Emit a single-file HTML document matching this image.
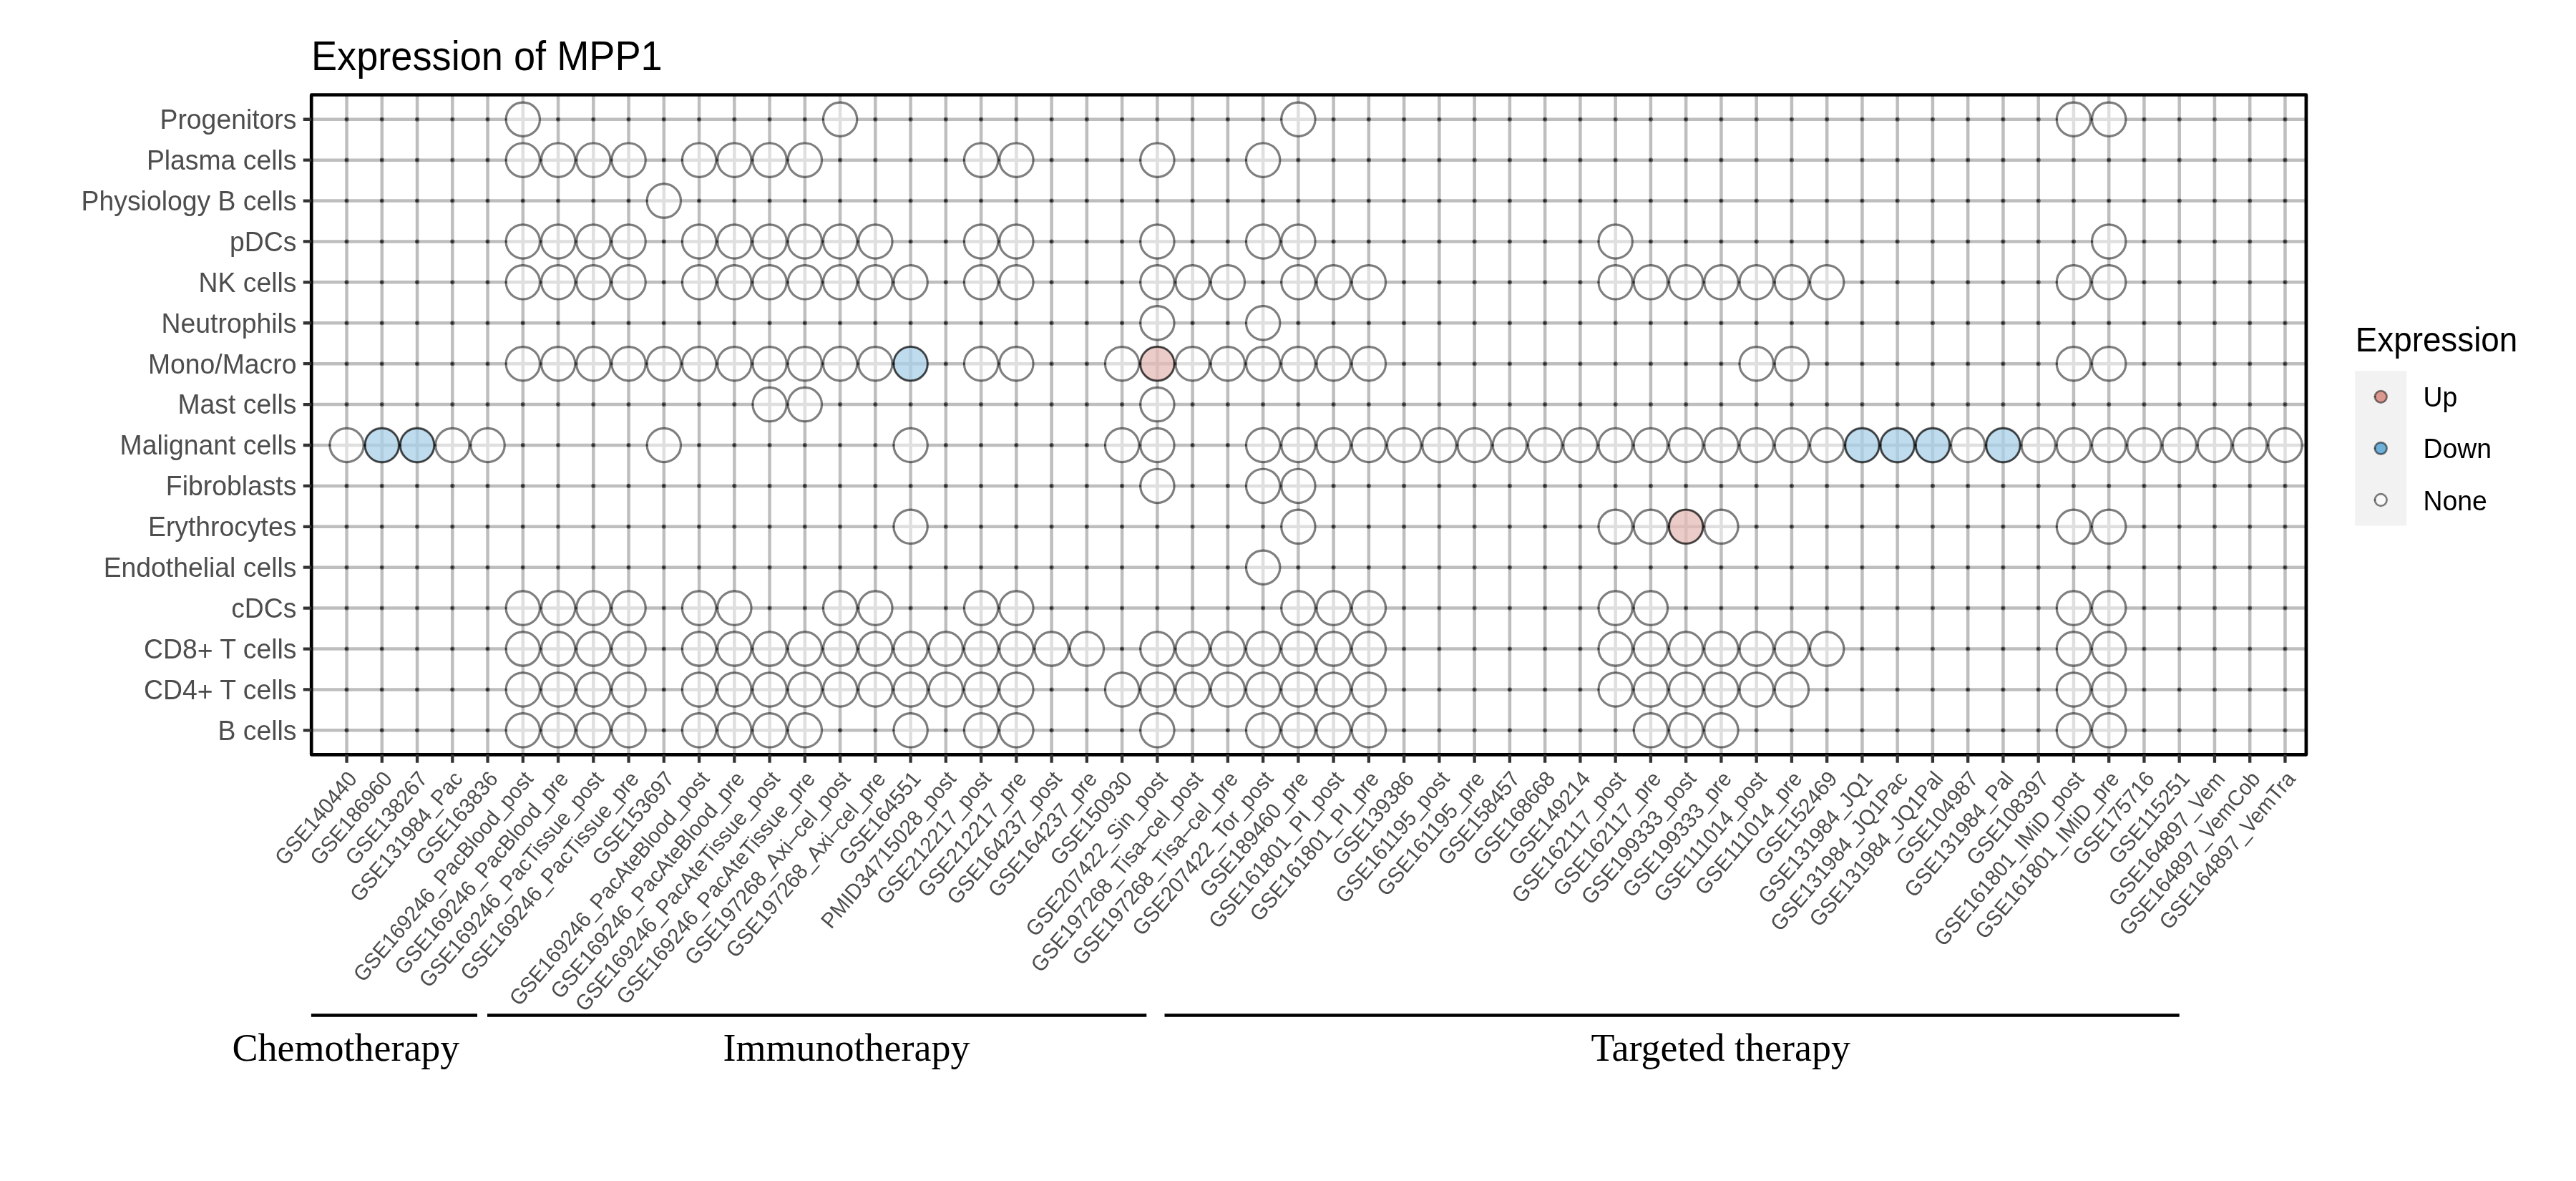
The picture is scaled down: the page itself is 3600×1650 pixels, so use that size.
<!DOCTYPE html>
<html><head><meta charset="utf-8"><title>Expression of MPP1</title>
<style>
html,body{margin:0;padding:0;background:#fff}
body{width:3600px;height:1650px;overflow:hidden}
svg{display:block;will-change:transform}
text{font-family:"Liberation Sans",sans-serif}
.ser{font-family:"Liberation Serif",serif}
</style></head><body>
<svg width="3600" height="1650" viewBox="0 0 3600 1650">
<rect width="3600" height="1650" fill="#fff"/>
<g font-size="54.17" fill="#000"><text transform="translate(435 97.6) scale(1 1.05)">Expression of MPP1</text>
</g>
<g stroke="#bebebe" stroke-width="4.5" fill="none">
<path d="M435.2 166.74H3222.9M435.2 223.65H3222.9M435.2 280.55H3222.9M435.2 337.46H3222.9M435.2 394.37H3222.9M435.2 451.27H3222.9M435.2 508.18H3222.9M435.2 565.09H3222.9M435.2 622H3222.9M435.2 678.9H3222.9M435.2 735.81H3222.9M435.2 792.72H3222.9M435.2 849.62H3222.9M435.2 906.53H3222.9M435.2 963.44H3222.9M435.2 1020.34H3222.9M484.55 132.5V1054.35M533.8 132.5V1054.35M583.06 132.5V1054.35M632.31 132.5V1054.35M681.56 132.5V1054.35M730.82 132.5V1054.35M780.07 132.5V1054.35M829.32 132.5V1054.35M878.57 132.5V1054.35M927.83 132.5V1054.35M977.08 132.5V1054.35M1026.33 132.5V1054.35M1075.59 132.5V1054.35M1124.84 132.5V1054.35M1174.09 132.5V1054.35M1223.35 132.5V1054.35M1272.6 132.5V1054.35M1321.85 132.5V1054.35M1371.1 132.5V1054.35M1420.36 132.5V1054.35M1469.61 132.5V1054.35M1518.86 132.5V1054.35M1568.12 132.5V1054.35M1617.37 132.5V1054.35M1666.62 132.5V1054.35M1715.88 132.5V1054.35M1765.13 132.5V1054.35M1814.38 132.5V1054.35M1863.63 132.5V1054.35M1912.89 132.5V1054.35M1962.14 132.5V1054.35M2011.39 132.5V1054.35M2060.65 132.5V1054.35M2109.9 132.5V1054.35M2159.15 132.5V1054.35M2208.41 132.5V1054.35M2257.66 132.5V1054.35M2306.91 132.5V1054.35M2356.16 132.5V1054.35M2405.42 132.5V1054.35M2454.67 132.5V1054.35M2503.92 132.5V1054.35M2553.18 132.5V1054.35M2602.43 132.5V1054.35M2651.68 132.5V1054.35M2700.94 132.5V1054.35M2750.19 132.5V1054.35M2799.44 132.5V1054.35M2848.69 132.5V1054.35M2897.95 132.5V1054.35M2947.2 132.5V1054.35M2996.45 132.5V1054.35M3045.71 132.5V1054.35M3094.96 132.5V1054.35M3144.21 132.5V1054.35M3193.47 132.5V1054.35"/>
</g>
<defs><g id="p" fill="#000"><circle r="3.05" fill-opacity="0.55"/><circle cx="-0.4" r="1.7" fill-opacity="0.55"/></g></defs>
<g>
<use href="#p" x="484.55" y="166.74"/><use href="#p" x="533.8" y="166.74"/><use href="#p" x="583.06" y="166.74"/><use href="#p" x="632.31" y="166.74"/><use href="#p" x="681.56" y="166.74"/><use href="#p" x="780.07" y="166.74"/><use href="#p" x="829.32" y="166.74"/><use href="#p" x="878.57" y="166.74"/><use href="#p" x="927.83" y="166.74"/><use href="#p" x="977.08" y="166.74"/><use href="#p" x="1026.33" y="166.74"/><use href="#p" x="1075.59" y="166.74"/><use href="#p" x="1124.84" y="166.74"/><use href="#p" x="1223.35" y="166.74"/><use href="#p" x="1272.6" y="166.74"/><use href="#p" x="1321.85" y="166.74"/><use href="#p" x="1371.1" y="166.74"/><use href="#p" x="1420.36" y="166.74"/><use href="#p" x="1469.61" y="166.74"/><use href="#p" x="1518.86" y="166.74"/><use href="#p" x="1568.12" y="166.74"/><use href="#p" x="1617.37" y="166.74"/><use href="#p" x="1666.62" y="166.74"/><use href="#p" x="1715.88" y="166.74"/><use href="#p" x="1765.13" y="166.74"/><use href="#p" x="1863.63" y="166.74"/><use href="#p" x="1912.89" y="166.74"/><use href="#p" x="1962.14" y="166.74"/><use href="#p" x="2011.39" y="166.74"/><use href="#p" x="2060.65" y="166.74"/><use href="#p" x="2109.9" y="166.74"/><use href="#p" x="2159.15" y="166.74"/><use href="#p" x="2208.41" y="166.74"/><use href="#p" x="2257.66" y="166.74"/><use href="#p" x="2306.91" y="166.74"/><use href="#p" x="2356.16" y="166.74"/><use href="#p" x="2405.42" y="166.74"/><use href="#p" x="2454.67" y="166.74"/><use href="#p" x="2503.92" y="166.74"/><use href="#p" x="2553.18" y="166.74"/><use href="#p" x="2602.43" y="166.74"/><use href="#p" x="2651.68" y="166.74"/><use href="#p" x="2700.94" y="166.74"/><use href="#p" x="2750.19" y="166.74"/><use href="#p" x="2799.44" y="166.74"/><use href="#p" x="2848.69" y="166.74"/><use href="#p" x="2996.45" y="166.74"/><use href="#p" x="3045.71" y="166.74"/><use href="#p" x="3094.96" y="166.74"/><use href="#p" x="3144.21" y="166.74"/><use href="#p" x="3193.47" y="166.74"/>
<use href="#p" x="484.55" y="223.65"/><use href="#p" x="533.8" y="223.65"/><use href="#p" x="583.06" y="223.65"/><use href="#p" x="632.31" y="223.65"/><use href="#p" x="681.56" y="223.65"/><use href="#p" x="927.83" y="223.65"/><use href="#p" x="1174.09" y="223.65"/><use href="#p" x="1223.35" y="223.65"/><use href="#p" x="1272.6" y="223.65"/><use href="#p" x="1321.85" y="223.65"/><use href="#p" x="1469.61" y="223.65"/><use href="#p" x="1518.86" y="223.65"/><use href="#p" x="1568.12" y="223.65"/><use href="#p" x="1666.62" y="223.65"/><use href="#p" x="1715.88" y="223.65"/><use href="#p" x="1814.38" y="223.65"/><use href="#p" x="1863.63" y="223.65"/><use href="#p" x="1912.89" y="223.65"/><use href="#p" x="1962.14" y="223.65"/><use href="#p" x="2011.39" y="223.65"/><use href="#p" x="2060.65" y="223.65"/><use href="#p" x="2109.9" y="223.65"/><use href="#p" x="2159.15" y="223.65"/><use href="#p" x="2208.41" y="223.65"/><use href="#p" x="2257.66" y="223.65"/><use href="#p" x="2306.91" y="223.65"/><use href="#p" x="2356.16" y="223.65"/><use href="#p" x="2405.42" y="223.65"/><use href="#p" x="2454.67" y="223.65"/><use href="#p" x="2503.92" y="223.65"/><use href="#p" x="2553.18" y="223.65"/><use href="#p" x="2602.43" y="223.65"/><use href="#p" x="2651.68" y="223.65"/><use href="#p" x="2700.94" y="223.65"/><use href="#p" x="2750.19" y="223.65"/><use href="#p" x="2799.44" y="223.65"/><use href="#p" x="2848.69" y="223.65"/><use href="#p" x="2897.95" y="223.65"/><use href="#p" x="2947.2" y="223.65"/><use href="#p" x="2996.45" y="223.65"/><use href="#p" x="3045.71" y="223.65"/><use href="#p" x="3094.96" y="223.65"/><use href="#p" x="3144.21" y="223.65"/><use href="#p" x="3193.47" y="223.65"/>
<use href="#p" x="484.55" y="280.55"/><use href="#p" x="533.8" y="280.55"/><use href="#p" x="583.06" y="280.55"/><use href="#p" x="632.31" y="280.55"/><use href="#p" x="681.56" y="280.55"/><use href="#p" x="730.82" y="280.55"/><use href="#p" x="780.07" y="280.55"/><use href="#p" x="829.32" y="280.55"/><use href="#p" x="878.57" y="280.55"/><use href="#p" x="977.08" y="280.55"/><use href="#p" x="1026.33" y="280.55"/><use href="#p" x="1075.59" y="280.55"/><use href="#p" x="1124.84" y="280.55"/><use href="#p" x="1174.09" y="280.55"/><use href="#p" x="1223.35" y="280.55"/><use href="#p" x="1272.6" y="280.55"/><use href="#p" x="1321.85" y="280.55"/><use href="#p" x="1371.1" y="280.55"/><use href="#p" x="1420.36" y="280.55"/><use href="#p" x="1469.61" y="280.55"/><use href="#p" x="1518.86" y="280.55"/><use href="#p" x="1568.12" y="280.55"/><use href="#p" x="1617.37" y="280.55"/><use href="#p" x="1666.62" y="280.55"/><use href="#p" x="1715.88" y="280.55"/><use href="#p" x="1765.13" y="280.55"/><use href="#p" x="1814.38" y="280.55"/><use href="#p" x="1863.63" y="280.55"/><use href="#p" x="1912.89" y="280.55"/><use href="#p" x="1962.14" y="280.55"/><use href="#p" x="2011.39" y="280.55"/><use href="#p" x="2060.65" y="280.55"/><use href="#p" x="2109.9" y="280.55"/><use href="#p" x="2159.15" y="280.55"/><use href="#p" x="2208.41" y="280.55"/><use href="#p" x="2257.66" y="280.55"/><use href="#p" x="2306.91" y="280.55"/><use href="#p" x="2356.16" y="280.55"/><use href="#p" x="2405.42" y="280.55"/><use href="#p" x="2454.67" y="280.55"/><use href="#p" x="2503.92" y="280.55"/><use href="#p" x="2553.18" y="280.55"/><use href="#p" x="2602.43" y="280.55"/><use href="#p" x="2651.68" y="280.55"/><use href="#p" x="2700.94" y="280.55"/><use href="#p" x="2750.19" y="280.55"/><use href="#p" x="2799.44" y="280.55"/><use href="#p" x="2848.69" y="280.55"/><use href="#p" x="2897.95" y="280.55"/><use href="#p" x="2947.2" y="280.55"/><use href="#p" x="2996.45" y="280.55"/><use href="#p" x="3045.71" y="280.55"/><use href="#p" x="3094.96" y="280.55"/><use href="#p" x="3144.21" y="280.55"/><use href="#p" x="3193.47" y="280.55"/>
<use href="#p" x="484.55" y="337.46"/><use href="#p" x="533.8" y="337.46"/><use href="#p" x="583.06" y="337.46"/><use href="#p" x="632.31" y="337.46"/><use href="#p" x="681.56" y="337.46"/><use href="#p" x="927.83" y="337.46"/><use href="#p" x="1272.6" y="337.46"/><use href="#p" x="1321.85" y="337.46"/><use href="#p" x="1469.61" y="337.46"/><use href="#p" x="1518.86" y="337.46"/><use href="#p" x="1568.12" y="337.46"/><use href="#p" x="1666.62" y="337.46"/><use href="#p" x="1715.88" y="337.46"/><use href="#p" x="1863.63" y="337.46"/><use href="#p" x="1912.89" y="337.46"/><use href="#p" x="1962.14" y="337.46"/><use href="#p" x="2011.39" y="337.46"/><use href="#p" x="2060.65" y="337.46"/><use href="#p" x="2109.9" y="337.46"/><use href="#p" x="2159.15" y="337.46"/><use href="#p" x="2208.41" y="337.46"/><use href="#p" x="2306.91" y="337.46"/><use href="#p" x="2356.16" y="337.46"/><use href="#p" x="2405.42" y="337.46"/><use href="#p" x="2454.67" y="337.46"/><use href="#p" x="2503.92" y="337.46"/><use href="#p" x="2553.18" y="337.46"/><use href="#p" x="2602.43" y="337.46"/><use href="#p" x="2651.68" y="337.46"/><use href="#p" x="2700.94" y="337.46"/><use href="#p" x="2750.19" y="337.46"/><use href="#p" x="2799.44" y="337.46"/><use href="#p" x="2848.69" y="337.46"/><use href="#p" x="2897.95" y="337.46"/><use href="#p" x="2996.45" y="337.46"/><use href="#p" x="3045.71" y="337.46"/><use href="#p" x="3094.96" y="337.46"/><use href="#p" x="3144.21" y="337.46"/><use href="#p" x="3193.47" y="337.46"/>
<use href="#p" x="484.55" y="394.37"/><use href="#p" x="533.8" y="394.37"/><use href="#p" x="583.06" y="394.37"/><use href="#p" x="632.31" y="394.37"/><use href="#p" x="681.56" y="394.37"/><use href="#p" x="927.83" y="394.37"/><use href="#p" x="1321.85" y="394.37"/><use href="#p" x="1469.61" y="394.37"/><use href="#p" x="1518.86" y="394.37"/><use href="#p" x="1568.12" y="394.37"/><use href="#p" x="1765.13" y="394.37"/><use href="#p" x="1962.14" y="394.37"/><use href="#p" x="2011.39" y="394.37"/><use href="#p" x="2060.65" y="394.37"/><use href="#p" x="2109.9" y="394.37"/><use href="#p" x="2159.15" y="394.37"/><use href="#p" x="2208.41" y="394.37"/><use href="#p" x="2602.43" y="394.37"/><use href="#p" x="2651.68" y="394.37"/><use href="#p" x="2700.94" y="394.37"/><use href="#p" x="2750.19" y="394.37"/><use href="#p" x="2799.44" y="394.37"/><use href="#p" x="2848.69" y="394.37"/><use href="#p" x="2996.45" y="394.37"/><use href="#p" x="3045.71" y="394.37"/><use href="#p" x="3094.96" y="394.37"/><use href="#p" x="3144.21" y="394.37"/><use href="#p" x="3193.47" y="394.37"/>
<use href="#p" x="484.55" y="451.27"/><use href="#p" x="533.8" y="451.27"/><use href="#p" x="583.06" y="451.27"/><use href="#p" x="632.31" y="451.27"/><use href="#p" x="681.56" y="451.27"/><use href="#p" x="730.82" y="451.27"/><use href="#p" x="780.07" y="451.27"/><use href="#p" x="829.32" y="451.27"/><use href="#p" x="878.57" y="451.27"/><use href="#p" x="927.83" y="451.27"/><use href="#p" x="977.08" y="451.27"/><use href="#p" x="1026.33" y="451.27"/><use href="#p" x="1075.59" y="451.27"/><use href="#p" x="1124.84" y="451.27"/><use href="#p" x="1174.09" y="451.27"/><use href="#p" x="1223.35" y="451.27"/><use href="#p" x="1272.6" y="451.27"/><use href="#p" x="1321.85" y="451.27"/><use href="#p" x="1371.1" y="451.27"/><use href="#p" x="1420.36" y="451.27"/><use href="#p" x="1469.61" y="451.27"/><use href="#p" x="1518.86" y="451.27"/><use href="#p" x="1568.12" y="451.27"/><use href="#p" x="1666.62" y="451.27"/><use href="#p" x="1715.88" y="451.27"/><use href="#p" x="1814.38" y="451.27"/><use href="#p" x="1863.63" y="451.27"/><use href="#p" x="1912.89" y="451.27"/><use href="#p" x="1962.14" y="451.27"/><use href="#p" x="2011.39" y="451.27"/><use href="#p" x="2060.65" y="451.27"/><use href="#p" x="2109.9" y="451.27"/><use href="#p" x="2159.15" y="451.27"/><use href="#p" x="2208.41" y="451.27"/><use href="#p" x="2257.66" y="451.27"/><use href="#p" x="2306.91" y="451.27"/><use href="#p" x="2356.16" y="451.27"/><use href="#p" x="2405.42" y="451.27"/><use href="#p" x="2454.67" y="451.27"/><use href="#p" x="2503.92" y="451.27"/><use href="#p" x="2553.18" y="451.27"/><use href="#p" x="2602.43" y="451.27"/><use href="#p" x="2651.68" y="451.27"/><use href="#p" x="2700.94" y="451.27"/><use href="#p" x="2750.19" y="451.27"/><use href="#p" x="2799.44" y="451.27"/><use href="#p" x="2848.69" y="451.27"/><use href="#p" x="2897.95" y="451.27"/><use href="#p" x="2947.2" y="451.27"/><use href="#p" x="2996.45" y="451.27"/><use href="#p" x="3045.71" y="451.27"/><use href="#p" x="3094.96" y="451.27"/><use href="#p" x="3144.21" y="451.27"/><use href="#p" x="3193.47" y="451.27"/>
<use href="#p" x="484.55" y="508.18"/><use href="#p" x="533.8" y="508.18"/><use href="#p" x="583.06" y="508.18"/><use href="#p" x="632.31" y="508.18"/><use href="#p" x="681.56" y="508.18"/><use href="#p" x="1321.85" y="508.18"/><use href="#p" x="1469.61" y="508.18"/><use href="#p" x="1518.86" y="508.18"/><use href="#p" x="1962.14" y="508.18"/><use href="#p" x="2011.39" y="508.18"/><use href="#p" x="2060.65" y="508.18"/><use href="#p" x="2109.9" y="508.18"/><use href="#p" x="2159.15" y="508.18"/><use href="#p" x="2208.41" y="508.18"/><use href="#p" x="2257.66" y="508.18"/><use href="#p" x="2306.91" y="508.18"/><use href="#p" x="2356.16" y="508.18"/><use href="#p" x="2405.42" y="508.18"/><use href="#p" x="2553.18" y="508.18"/><use href="#p" x="2602.43" y="508.18"/><use href="#p" x="2651.68" y="508.18"/><use href="#p" x="2700.94" y="508.18"/><use href="#p" x="2750.19" y="508.18"/><use href="#p" x="2799.44" y="508.18"/><use href="#p" x="2848.69" y="508.18"/><use href="#p" x="2996.45" y="508.18"/><use href="#p" x="3045.71" y="508.18"/><use href="#p" x="3094.96" y="508.18"/><use href="#p" x="3144.21" y="508.18"/><use href="#p" x="3193.47" y="508.18"/>
<use href="#p" x="484.55" y="565.09"/><use href="#p" x="533.8" y="565.09"/><use href="#p" x="583.06" y="565.09"/><use href="#p" x="632.31" y="565.09"/><use href="#p" x="681.56" y="565.09"/><use href="#p" x="730.82" y="565.09"/><use href="#p" x="780.07" y="565.09"/><use href="#p" x="829.32" y="565.09"/><use href="#p" x="878.57" y="565.09"/><use href="#p" x="927.83" y="565.09"/><use href="#p" x="977.08" y="565.09"/><use href="#p" x="1026.33" y="565.09"/><use href="#p" x="1174.09" y="565.09"/><use href="#p" x="1223.35" y="565.09"/><use href="#p" x="1272.6" y="565.09"/><use href="#p" x="1321.85" y="565.09"/><use href="#p" x="1371.1" y="565.09"/><use href="#p" x="1420.36" y="565.09"/><use href="#p" x="1469.61" y="565.09"/><use href="#p" x="1518.86" y="565.09"/><use href="#p" x="1568.12" y="565.09"/><use href="#p" x="1666.62" y="565.09"/><use href="#p" x="1715.88" y="565.09"/><use href="#p" x="1765.13" y="565.09"/><use href="#p" x="1814.38" y="565.09"/><use href="#p" x="1863.63" y="565.09"/><use href="#p" x="1912.89" y="565.09"/><use href="#p" x="1962.14" y="565.09"/><use href="#p" x="2011.39" y="565.09"/><use href="#p" x="2060.65" y="565.09"/><use href="#p" x="2109.9" y="565.09"/><use href="#p" x="2159.15" y="565.09"/><use href="#p" x="2208.41" y="565.09"/><use href="#p" x="2257.66" y="565.09"/><use href="#p" x="2306.91" y="565.09"/><use href="#p" x="2356.16" y="565.09"/><use href="#p" x="2405.42" y="565.09"/><use href="#p" x="2454.67" y="565.09"/><use href="#p" x="2503.92" y="565.09"/><use href="#p" x="2553.18" y="565.09"/><use href="#p" x="2602.43" y="565.09"/><use href="#p" x="2651.68" y="565.09"/><use href="#p" x="2700.94" y="565.09"/><use href="#p" x="2750.19" y="565.09"/><use href="#p" x="2799.44" y="565.09"/><use href="#p" x="2848.69" y="565.09"/><use href="#p" x="2897.95" y="565.09"/><use href="#p" x="2947.2" y="565.09"/><use href="#p" x="2996.45" y="565.09"/><use href="#p" x="3045.71" y="565.09"/><use href="#p" x="3094.96" y="565.09"/><use href="#p" x="3144.21" y="565.09"/><use href="#p" x="3193.47" y="565.09"/>
<use href="#p" x="730.82" y="622"/><use href="#p" x="780.07" y="622"/><use href="#p" x="829.32" y="622"/><use href="#p" x="878.57" y="622"/><use href="#p" x="977.08" y="622"/><use href="#p" x="1026.33" y="622"/><use href="#p" x="1075.59" y="622"/><use href="#p" x="1124.84" y="622"/><use href="#p" x="1174.09" y="622"/><use href="#p" x="1223.35" y="622"/><use href="#p" x="1321.85" y="622"/><use href="#p" x="1371.1" y="622"/><use href="#p" x="1420.36" y="622"/><use href="#p" x="1469.61" y="622"/><use href="#p" x="1518.86" y="622"/><use href="#p" x="1666.62" y="622"/><use href="#p" x="1715.88" y="622"/>
<use href="#p" x="484.55" y="678.9"/><use href="#p" x="533.8" y="678.9"/><use href="#p" x="583.06" y="678.9"/><use href="#p" x="632.31" y="678.9"/><use href="#p" x="681.56" y="678.9"/><use href="#p" x="730.82" y="678.9"/><use href="#p" x="780.07" y="678.9"/><use href="#p" x="829.32" y="678.9"/><use href="#p" x="878.57" y="678.9"/><use href="#p" x="927.83" y="678.9"/><use href="#p" x="977.08" y="678.9"/><use href="#p" x="1026.33" y="678.9"/><use href="#p" x="1075.59" y="678.9"/><use href="#p" x="1124.84" y="678.9"/><use href="#p" x="1174.09" y="678.9"/><use href="#p" x="1223.35" y="678.9"/><use href="#p" x="1272.6" y="678.9"/><use href="#p" x="1321.85" y="678.9"/><use href="#p" x="1371.1" y="678.9"/><use href="#p" x="1420.36" y="678.9"/><use href="#p" x="1469.61" y="678.9"/><use href="#p" x="1518.86" y="678.9"/><use href="#p" x="1568.12" y="678.9"/><use href="#p" x="1666.62" y="678.9"/><use href="#p" x="1715.88" y="678.9"/><use href="#p" x="1863.63" y="678.9"/><use href="#p" x="1912.89" y="678.9"/><use href="#p" x="1962.14" y="678.9"/><use href="#p" x="2011.39" y="678.9"/><use href="#p" x="2060.65" y="678.9"/><use href="#p" x="2109.9" y="678.9"/><use href="#p" x="2159.15" y="678.9"/><use href="#p" x="2208.41" y="678.9"/><use href="#p" x="2257.66" y="678.9"/><use href="#p" x="2306.91" y="678.9"/><use href="#p" x="2356.16" y="678.9"/><use href="#p" x="2405.42" y="678.9"/><use href="#p" x="2454.67" y="678.9"/><use href="#p" x="2503.92" y="678.9"/><use href="#p" x="2553.18" y="678.9"/><use href="#p" x="2602.43" y="678.9"/><use href="#p" x="2651.68" y="678.9"/><use href="#p" x="2700.94" y="678.9"/><use href="#p" x="2750.19" y="678.9"/><use href="#p" x="2799.44" y="678.9"/><use href="#p" x="2848.69" y="678.9"/><use href="#p" x="2897.95" y="678.9"/><use href="#p" x="2947.2" y="678.9"/><use href="#p" x="2996.45" y="678.9"/><use href="#p" x="3045.71" y="678.9"/><use href="#p" x="3094.96" y="678.9"/><use href="#p" x="3144.21" y="678.9"/><use href="#p" x="3193.47" y="678.9"/>
<use href="#p" x="484.55" y="735.81"/><use href="#p" x="533.8" y="735.81"/><use href="#p" x="583.06" y="735.81"/><use href="#p" x="632.31" y="735.81"/><use href="#p" x="681.56" y="735.81"/><use href="#p" x="730.82" y="735.81"/><use href="#p" x="780.07" y="735.81"/><use href="#p" x="829.32" y="735.81"/><use href="#p" x="878.57" y="735.81"/><use href="#p" x="927.83" y="735.81"/><use href="#p" x="977.08" y="735.81"/><use href="#p" x="1026.33" y="735.81"/><use href="#p" x="1075.59" y="735.81"/><use href="#p" x="1124.84" y="735.81"/><use href="#p" x="1174.09" y="735.81"/><use href="#p" x="1223.35" y="735.81"/><use href="#p" x="1321.85" y="735.81"/><use href="#p" x="1371.1" y="735.81"/><use href="#p" x="1420.36" y="735.81"/><use href="#p" x="1469.61" y="735.81"/><use href="#p" x="1518.86" y="735.81"/><use href="#p" x="1568.12" y="735.81"/><use href="#p" x="1617.37" y="735.81"/><use href="#p" x="1666.62" y="735.81"/><use href="#p" x="1715.88" y="735.81"/><use href="#p" x="1765.13" y="735.81"/><use href="#p" x="1863.63" y="735.81"/><use href="#p" x="1912.89" y="735.81"/><use href="#p" x="1962.14" y="735.81"/><use href="#p" x="2011.39" y="735.81"/><use href="#p" x="2060.65" y="735.81"/><use href="#p" x="2109.9" y="735.81"/><use href="#p" x="2159.15" y="735.81"/><use href="#p" x="2208.41" y="735.81"/><use href="#p" x="2454.67" y="735.81"/><use href="#p" x="2503.92" y="735.81"/><use href="#p" x="2553.18" y="735.81"/><use href="#p" x="2602.43" y="735.81"/><use href="#p" x="2651.68" y="735.81"/><use href="#p" x="2700.94" y="735.81"/><use href="#p" x="2750.19" y="735.81"/><use href="#p" x="2799.44" y="735.81"/><use href="#p" x="2848.69" y="735.81"/><use href="#p" x="2996.45" y="735.81"/><use href="#p" x="3045.71" y="735.81"/><use href="#p" x="3094.96" y="735.81"/><use href="#p" x="3144.21" y="735.81"/><use href="#p" x="3193.47" y="735.81"/>
<use href="#p" x="484.55" y="792.72"/><use href="#p" x="533.8" y="792.72"/><use href="#p" x="583.06" y="792.72"/><use href="#p" x="632.31" y="792.72"/><use href="#p" x="681.56" y="792.72"/><use href="#p" x="730.82" y="792.72"/><use href="#p" x="780.07" y="792.72"/><use href="#p" x="829.32" y="792.72"/><use href="#p" x="878.57" y="792.72"/><use href="#p" x="927.83" y="792.72"/><use href="#p" x="977.08" y="792.72"/><use href="#p" x="1026.33" y="792.72"/><use href="#p" x="1075.59" y="792.72"/><use href="#p" x="1124.84" y="792.72"/><use href="#p" x="1174.09" y="792.72"/><use href="#p" x="1223.35" y="792.72"/><use href="#p" x="1272.6" y="792.72"/><use href="#p" x="1321.85" y="792.72"/><use href="#p" x="1371.1" y="792.72"/><use href="#p" x="1420.36" y="792.72"/><use href="#p" x="1469.61" y="792.72"/><use href="#p" x="1518.86" y="792.72"/><use href="#p" x="1568.12" y="792.72"/><use href="#p" x="1617.37" y="792.72"/><use href="#p" x="1666.62" y="792.72"/><use href="#p" x="1715.88" y="792.72"/><use href="#p" x="1814.38" y="792.72"/><use href="#p" x="1863.63" y="792.72"/><use href="#p" x="1912.89" y="792.72"/><use href="#p" x="1962.14" y="792.72"/><use href="#p" x="2011.39" y="792.72"/><use href="#p" x="2060.65" y="792.72"/><use href="#p" x="2109.9" y="792.72"/><use href="#p" x="2159.15" y="792.72"/><use href="#p" x="2208.41" y="792.72"/><use href="#p" x="2257.66" y="792.72"/><use href="#p" x="2306.91" y="792.72"/><use href="#p" x="2356.16" y="792.72"/><use href="#p" x="2405.42" y="792.72"/><use href="#p" x="2454.67" y="792.72"/><use href="#p" x="2503.92" y="792.72"/><use href="#p" x="2553.18" y="792.72"/><use href="#p" x="2602.43" y="792.72"/><use href="#p" x="2651.68" y="792.72"/><use href="#p" x="2700.94" y="792.72"/><use href="#p" x="2750.19" y="792.72"/><use href="#p" x="2799.44" y="792.72"/><use href="#p" x="2848.69" y="792.72"/><use href="#p" x="2897.95" y="792.72"/><use href="#p" x="2947.2" y="792.72"/><use href="#p" x="2996.45" y="792.72"/><use href="#p" x="3045.71" y="792.72"/><use href="#p" x="3094.96" y="792.72"/><use href="#p" x="3144.21" y="792.72"/><use href="#p" x="3193.47" y="792.72"/>
<use href="#p" x="484.55" y="849.62"/><use href="#p" x="533.8" y="849.62"/><use href="#p" x="583.06" y="849.62"/><use href="#p" x="632.31" y="849.62"/><use href="#p" x="681.56" y="849.62"/><use href="#p" x="927.83" y="849.62"/><use href="#p" x="1075.59" y="849.62"/><use href="#p" x="1124.84" y="849.62"/><use href="#p" x="1272.6" y="849.62"/><use href="#p" x="1321.85" y="849.62"/><use href="#p" x="1469.61" y="849.62"/><use href="#p" x="1518.86" y="849.62"/><use href="#p" x="1568.12" y="849.62"/><use href="#p" x="1617.37" y="849.62"/><use href="#p" x="1666.62" y="849.62"/><use href="#p" x="1715.88" y="849.62"/><use href="#p" x="1765.13" y="849.62"/><use href="#p" x="1962.14" y="849.62"/><use href="#p" x="2011.39" y="849.62"/><use href="#p" x="2060.65" y="849.62"/><use href="#p" x="2109.9" y="849.62"/><use href="#p" x="2159.15" y="849.62"/><use href="#p" x="2208.41" y="849.62"/><use href="#p" x="2356.16" y="849.62"/><use href="#p" x="2405.42" y="849.62"/><use href="#p" x="2454.67" y="849.62"/><use href="#p" x="2503.92" y="849.62"/><use href="#p" x="2553.18" y="849.62"/><use href="#p" x="2602.43" y="849.62"/><use href="#p" x="2651.68" y="849.62"/><use href="#p" x="2700.94" y="849.62"/><use href="#p" x="2750.19" y="849.62"/><use href="#p" x="2799.44" y="849.62"/><use href="#p" x="2848.69" y="849.62"/><use href="#p" x="2996.45" y="849.62"/><use href="#p" x="3045.71" y="849.62"/><use href="#p" x="3094.96" y="849.62"/><use href="#p" x="3144.21" y="849.62"/><use href="#p" x="3193.47" y="849.62"/>
<use href="#p" x="484.55" y="906.53"/><use href="#p" x="533.8" y="906.53"/><use href="#p" x="583.06" y="906.53"/><use href="#p" x="632.31" y="906.53"/><use href="#p" x="681.56" y="906.53"/><use href="#p" x="927.83" y="906.53"/><use href="#p" x="1568.12" y="906.53"/><use href="#p" x="1962.14" y="906.53"/><use href="#p" x="2011.39" y="906.53"/><use href="#p" x="2060.65" y="906.53"/><use href="#p" x="2109.9" y="906.53"/><use href="#p" x="2159.15" y="906.53"/><use href="#p" x="2208.41" y="906.53"/><use href="#p" x="2602.43" y="906.53"/><use href="#p" x="2651.68" y="906.53"/><use href="#p" x="2700.94" y="906.53"/><use href="#p" x="2750.19" y="906.53"/><use href="#p" x="2799.44" y="906.53"/><use href="#p" x="2848.69" y="906.53"/><use href="#p" x="2996.45" y="906.53"/><use href="#p" x="3045.71" y="906.53"/><use href="#p" x="3094.96" y="906.53"/><use href="#p" x="3144.21" y="906.53"/><use href="#p" x="3193.47" y="906.53"/>
<use href="#p" x="484.55" y="963.44"/><use href="#p" x="533.8" y="963.44"/><use href="#p" x="583.06" y="963.44"/><use href="#p" x="632.31" y="963.44"/><use href="#p" x="681.56" y="963.44"/><use href="#p" x="927.83" y="963.44"/><use href="#p" x="1469.61" y="963.44"/><use href="#p" x="1518.86" y="963.44"/><use href="#p" x="1962.14" y="963.44"/><use href="#p" x="2011.39" y="963.44"/><use href="#p" x="2060.65" y="963.44"/><use href="#p" x="2109.9" y="963.44"/><use href="#p" x="2159.15" y="963.44"/><use href="#p" x="2208.41" y="963.44"/><use href="#p" x="2553.18" y="963.44"/><use href="#p" x="2602.43" y="963.44"/><use href="#p" x="2651.68" y="963.44"/><use href="#p" x="2700.94" y="963.44"/><use href="#p" x="2750.19" y="963.44"/><use href="#p" x="2799.44" y="963.44"/><use href="#p" x="2848.69" y="963.44"/><use href="#p" x="2996.45" y="963.44"/><use href="#p" x="3045.71" y="963.44"/><use href="#p" x="3094.96" y="963.44"/><use href="#p" x="3144.21" y="963.44"/><use href="#p" x="3193.47" y="963.44"/>
<use href="#p" x="484.55" y="1020.34"/><use href="#p" x="533.8" y="1020.34"/><use href="#p" x="583.06" y="1020.34"/><use href="#p" x="632.31" y="1020.34"/><use href="#p" x="681.56" y="1020.34"/><use href="#p" x="927.83" y="1020.34"/><use href="#p" x="1174.09" y="1020.34"/><use href="#p" x="1223.35" y="1020.34"/><use href="#p" x="1321.85" y="1020.34"/><use href="#p" x="1469.61" y="1020.34"/><use href="#p" x="1518.86" y="1020.34"/><use href="#p" x="1568.12" y="1020.34"/><use href="#p" x="1666.62" y="1020.34"/><use href="#p" x="1715.88" y="1020.34"/><use href="#p" x="1962.14" y="1020.34"/><use href="#p" x="2011.39" y="1020.34"/><use href="#p" x="2060.65" y="1020.34"/><use href="#p" x="2109.9" y="1020.34"/><use href="#p" x="2159.15" y="1020.34"/><use href="#p" x="2208.41" y="1020.34"/><use href="#p" x="2257.66" y="1020.34"/><use href="#p" x="2454.67" y="1020.34"/><use href="#p" x="2503.92" y="1020.34"/><use href="#p" x="2553.18" y="1020.34"/><use href="#p" x="2602.43" y="1020.34"/><use href="#p" x="2651.68" y="1020.34"/><use href="#p" x="2700.94" y="1020.34"/><use href="#p" x="2750.19" y="1020.34"/><use href="#p" x="2799.44" y="1020.34"/><use href="#p" x="2848.69" y="1020.34"/><use href="#p" x="2996.45" y="1020.34"/><use href="#p" x="3045.71" y="1020.34"/><use href="#p" x="3094.96" y="1020.34"/><use href="#p" x="3144.21" y="1020.34"/><use href="#p" x="3193.47" y="1020.34"/>
</g>
<defs>
<g id="n"><circle r="23.65" fill="#fff" fill-opacity="0.5" stroke="#000" stroke-opacity="0.5" stroke-width="3.2"/><circle cx="-23.65" r="1.6" fill="#000" fill-opacity="0.45"/></g>
<g id="d"><circle r="23.75" fill="#a8d0e8" fill-opacity="0.75" stroke="#000" stroke-opacity="0.5" stroke-width="3.3"/><circle r="23.75" fill="none" stroke="#000" stroke-opacity="0.5" stroke-width="2"/><circle cx="-23.75" r="1.6" fill="#000" fill-opacity="0.6"/></g>
<g id="u"><circle r="23.75" fill="#e5bbb5" fill-opacity="0.75" stroke="#000" stroke-opacity="0.5" stroke-width="3.3"/><circle r="23.75" fill="none" stroke="#000" stroke-opacity="0.5" stroke-width="2"/><circle cx="-23.75" r="1.6" fill="#000" fill-opacity="0.6"/></g>
</defs>
<g>
<use href="#n" x="730.82" y="166.74"/><use href="#n" x="1174.09" y="166.74"/><use href="#n" x="1814.38" y="166.74"/><use href="#n" x="2897.95" y="166.74"/><use href="#n" x="2947.2" y="166.74"/>
<use href="#n" x="730.82" y="223.65"/><use href="#n" x="780.07" y="223.65"/><use href="#n" x="829.32" y="223.65"/><use href="#n" x="878.57" y="223.65"/><use href="#n" x="977.08" y="223.65"/><use href="#n" x="1026.33" y="223.65"/><use href="#n" x="1075.59" y="223.65"/><use href="#n" x="1124.84" y="223.65"/><use href="#n" x="1371.1" y="223.65"/><use href="#n" x="1420.36" y="223.65"/><use href="#n" x="1617.37" y="223.65"/><use href="#n" x="1765.13" y="223.65"/>
<use href="#n" x="927.83" y="280.55"/>
<use href="#n" x="730.82" y="337.46"/><use href="#n" x="780.07" y="337.46"/><use href="#n" x="829.32" y="337.46"/><use href="#n" x="878.57" y="337.46"/><use href="#n" x="977.08" y="337.46"/><use href="#n" x="1026.33" y="337.46"/><use href="#n" x="1075.59" y="337.46"/><use href="#n" x="1124.84" y="337.46"/><use href="#n" x="1174.09" y="337.46"/><use href="#n" x="1223.35" y="337.46"/><use href="#n" x="1371.1" y="337.46"/><use href="#n" x="1420.36" y="337.46"/><use href="#n" x="1617.37" y="337.46"/><use href="#n" x="1765.13" y="337.46"/><use href="#n" x="1814.38" y="337.46"/><use href="#n" x="2257.66" y="337.46"/><use href="#n" x="2947.2" y="337.46"/>
<use href="#n" x="730.82" y="394.37"/><use href="#n" x="780.07" y="394.37"/><use href="#n" x="829.32" y="394.37"/><use href="#n" x="878.57" y="394.37"/><use href="#n" x="977.08" y="394.37"/><use href="#n" x="1026.33" y="394.37"/><use href="#n" x="1075.59" y="394.37"/><use href="#n" x="1124.84" y="394.37"/><use href="#n" x="1174.09" y="394.37"/><use href="#n" x="1223.35" y="394.37"/><use href="#n" x="1272.6" y="394.37"/><use href="#n" x="1371.1" y="394.37"/><use href="#n" x="1420.36" y="394.37"/><use href="#n" x="1617.37" y="394.37"/><use href="#n" x="1666.62" y="394.37"/><use href="#n" x="1715.88" y="394.37"/><use href="#n" x="1814.38" y="394.37"/><use href="#n" x="1863.63" y="394.37"/><use href="#n" x="1912.89" y="394.37"/><use href="#n" x="2257.66" y="394.37"/><use href="#n" x="2306.91" y="394.37"/><use href="#n" x="2356.16" y="394.37"/><use href="#n" x="2405.42" y="394.37"/><use href="#n" x="2454.67" y="394.37"/><use href="#n" x="2503.92" y="394.37"/><use href="#n" x="2553.18" y="394.37"/><use href="#n" x="2897.95" y="394.37"/><use href="#n" x="2947.2" y="394.37"/>
<use href="#n" x="1617.37" y="451.27"/><use href="#n" x="1765.13" y="451.27"/>
<use href="#n" x="730.82" y="508.18"/><use href="#n" x="780.07" y="508.18"/><use href="#n" x="829.32" y="508.18"/><use href="#n" x="878.57" y="508.18"/><use href="#n" x="927.83" y="508.18"/><use href="#n" x="977.08" y="508.18"/><use href="#n" x="1026.33" y="508.18"/><use href="#n" x="1075.59" y="508.18"/><use href="#n" x="1124.84" y="508.18"/><use href="#n" x="1174.09" y="508.18"/><use href="#n" x="1223.35" y="508.18"/><use href="#n" x="1371.1" y="508.18"/><use href="#n" x="1420.36" y="508.18"/><use href="#n" x="1568.12" y="508.18"/><use href="#n" x="1666.62" y="508.18"/><use href="#n" x="1715.88" y="508.18"/><use href="#n" x="1765.13" y="508.18"/><use href="#n" x="1814.38" y="508.18"/><use href="#n" x="1863.63" y="508.18"/><use href="#n" x="1912.89" y="508.18"/><use href="#n" x="2454.67" y="508.18"/><use href="#n" x="2503.92" y="508.18"/><use href="#n" x="2897.95" y="508.18"/><use href="#n" x="2947.2" y="508.18"/>
<use href="#n" x="1075.59" y="565.09"/><use href="#n" x="1124.84" y="565.09"/><use href="#n" x="1617.37" y="565.09"/>
<use href="#n" x="484.55" y="622"/><use href="#n" x="632.31" y="622"/><use href="#n" x="681.56" y="622"/><use href="#n" x="927.83" y="622"/><use href="#n" x="1272.6" y="622"/><use href="#n" x="1568.12" y="622"/><use href="#n" x="1617.37" y="622"/><use href="#n" x="1765.13" y="622"/><use href="#n" x="1814.38" y="622"/><use href="#n" x="1863.63" y="622"/><use href="#n" x="1912.89" y="622"/><use href="#n" x="1962.14" y="622"/><use href="#n" x="2011.39" y="622"/><use href="#n" x="2060.65" y="622"/><use href="#n" x="2109.9" y="622"/><use href="#n" x="2159.15" y="622"/><use href="#n" x="2208.41" y="622"/><use href="#n" x="2257.66" y="622"/><use href="#n" x="2306.91" y="622"/><use href="#n" x="2356.16" y="622"/><use href="#n" x="2405.42" y="622"/><use href="#n" x="2454.67" y="622"/><use href="#n" x="2503.92" y="622"/><use href="#n" x="2553.18" y="622"/><use href="#n" x="2750.19" y="622"/><use href="#n" x="2848.69" y="622"/><use href="#n" x="2897.95" y="622"/><use href="#n" x="2947.2" y="622"/><use href="#n" x="2996.45" y="622"/><use href="#n" x="3045.71" y="622"/><use href="#n" x="3094.96" y="622"/><use href="#n" x="3144.21" y="622"/><use href="#n" x="3193.47" y="622"/>
<use href="#n" x="1617.37" y="678.9"/><use href="#n" x="1765.13" y="678.9"/><use href="#n" x="1814.38" y="678.9"/>
<use href="#n" x="1272.6" y="735.81"/><use href="#n" x="1814.38" y="735.81"/><use href="#n" x="2257.66" y="735.81"/><use href="#n" x="2306.91" y="735.81"/><use href="#n" x="2405.42" y="735.81"/><use href="#n" x="2897.95" y="735.81"/><use href="#n" x="2947.2" y="735.81"/>
<use href="#n" x="1765.13" y="792.72"/>
<use href="#n" x="730.82" y="849.62"/><use href="#n" x="780.07" y="849.62"/><use href="#n" x="829.32" y="849.62"/><use href="#n" x="878.57" y="849.62"/><use href="#n" x="977.08" y="849.62"/><use href="#n" x="1026.33" y="849.62"/><use href="#n" x="1174.09" y="849.62"/><use href="#n" x="1223.35" y="849.62"/><use href="#n" x="1371.1" y="849.62"/><use href="#n" x="1420.36" y="849.62"/><use href="#n" x="1814.38" y="849.62"/><use href="#n" x="1863.63" y="849.62"/><use href="#n" x="1912.89" y="849.62"/><use href="#n" x="2257.66" y="849.62"/><use href="#n" x="2306.91" y="849.62"/><use href="#n" x="2897.95" y="849.62"/><use href="#n" x="2947.2" y="849.62"/>
<use href="#n" x="730.82" y="906.53"/><use href="#n" x="780.07" y="906.53"/><use href="#n" x="829.32" y="906.53"/><use href="#n" x="878.57" y="906.53"/><use href="#n" x="977.08" y="906.53"/><use href="#n" x="1026.33" y="906.53"/><use href="#n" x="1075.59" y="906.53"/><use href="#n" x="1124.84" y="906.53"/><use href="#n" x="1174.09" y="906.53"/><use href="#n" x="1223.35" y="906.53"/><use href="#n" x="1272.6" y="906.53"/><use href="#n" x="1321.85" y="906.53"/><use href="#n" x="1371.1" y="906.53"/><use href="#n" x="1420.36" y="906.53"/><use href="#n" x="1469.61" y="906.53"/><use href="#n" x="1518.86" y="906.53"/><use href="#n" x="1617.37" y="906.53"/><use href="#n" x="1666.62" y="906.53"/><use href="#n" x="1715.88" y="906.53"/><use href="#n" x="1765.13" y="906.53"/><use href="#n" x="1814.38" y="906.53"/><use href="#n" x="1863.63" y="906.53"/><use href="#n" x="1912.89" y="906.53"/><use href="#n" x="2257.66" y="906.53"/><use href="#n" x="2306.91" y="906.53"/><use href="#n" x="2356.16" y="906.53"/><use href="#n" x="2405.42" y="906.53"/><use href="#n" x="2454.67" y="906.53"/><use href="#n" x="2503.92" y="906.53"/><use href="#n" x="2553.18" y="906.53"/><use href="#n" x="2897.95" y="906.53"/><use href="#n" x="2947.2" y="906.53"/>
<use href="#n" x="730.82" y="963.44"/><use href="#n" x="780.07" y="963.44"/><use href="#n" x="829.32" y="963.44"/><use href="#n" x="878.57" y="963.44"/><use href="#n" x="977.08" y="963.44"/><use href="#n" x="1026.33" y="963.44"/><use href="#n" x="1075.59" y="963.44"/><use href="#n" x="1124.84" y="963.44"/><use href="#n" x="1174.09" y="963.44"/><use href="#n" x="1223.35" y="963.44"/><use href="#n" x="1272.6" y="963.44"/><use href="#n" x="1321.85" y="963.44"/><use href="#n" x="1371.1" y="963.44"/><use href="#n" x="1420.36" y="963.44"/><use href="#n" x="1568.12" y="963.44"/><use href="#n" x="1617.37" y="963.44"/><use href="#n" x="1666.62" y="963.44"/><use href="#n" x="1715.88" y="963.44"/><use href="#n" x="1765.13" y="963.44"/><use href="#n" x="1814.38" y="963.44"/><use href="#n" x="1863.63" y="963.44"/><use href="#n" x="1912.89" y="963.44"/><use href="#n" x="2257.66" y="963.44"/><use href="#n" x="2306.91" y="963.44"/><use href="#n" x="2356.16" y="963.44"/><use href="#n" x="2405.42" y="963.44"/><use href="#n" x="2454.67" y="963.44"/><use href="#n" x="2503.92" y="963.44"/><use href="#n" x="2897.95" y="963.44"/><use href="#n" x="2947.2" y="963.44"/>
<use href="#n" x="730.82" y="1020.34"/><use href="#n" x="780.07" y="1020.34"/><use href="#n" x="829.32" y="1020.34"/><use href="#n" x="878.57" y="1020.34"/><use href="#n" x="977.08" y="1020.34"/><use href="#n" x="1026.33" y="1020.34"/><use href="#n" x="1075.59" y="1020.34"/><use href="#n" x="1124.84" y="1020.34"/><use href="#n" x="1272.6" y="1020.34"/><use href="#n" x="1371.1" y="1020.34"/><use href="#n" x="1420.36" y="1020.34"/><use href="#n" x="1617.37" y="1020.34"/><use href="#n" x="1765.13" y="1020.34"/><use href="#n" x="1814.38" y="1020.34"/><use href="#n" x="1863.63" y="1020.34"/><use href="#n" x="1912.89" y="1020.34"/><use href="#n" x="2306.91" y="1020.34"/><use href="#n" x="2356.16" y="1020.34"/><use href="#n" x="2405.42" y="1020.34"/><use href="#n" x="2897.95" y="1020.34"/><use href="#n" x="2947.2" y="1020.34"/>
</g>
<g>
<use href="#d" x="1272.6" y="508.18"/>
<use href="#d" x="533.8" y="622"/><use href="#d" x="583.06" y="622"/><use href="#d" x="2602.43" y="622"/><use href="#d" x="2651.68" y="622"/><use href="#d" x="2700.94" y="622"/><use href="#d" x="2799.44" y="622"/>
</g>
<g>
<use href="#u" x="1617.37" y="508.18"/>
<use href="#u" x="2356.16" y="735.81"/>
</g>
<rect x="435.2" y="132.5" width="2787.7" height="921.85" fill="none" stroke="#000" stroke-width="4.7" stroke-linejoin="round"/>
<path d="M435.2 166.74h-11.46M435.2 223.65h-11.46M435.2 280.55h-11.46M435.2 337.46h-11.46M435.2 394.37h-11.46M435.2 451.27h-11.46M435.2 508.18h-11.46M435.2 565.09h-11.46M435.2 622h-11.46M435.2 678.9h-11.46M435.2 735.81h-11.46M435.2 792.72h-11.46M435.2 849.62h-11.46M435.2 906.53h-11.46M435.2 963.44h-11.46M435.2 1020.34h-11.46M484.55 1054.35v11.46M533.8 1054.35v11.46M583.06 1054.35v11.46M632.31 1054.35v11.46M681.56 1054.35v11.46M730.82 1054.35v11.46M780.07 1054.35v11.46M829.32 1054.35v11.46M878.57 1054.35v11.46M927.83 1054.35v11.46M977.08 1054.35v11.46M1026.33 1054.35v11.46M1075.59 1054.35v11.46M1124.84 1054.35v11.46M1174.09 1054.35v11.46M1223.35 1054.35v11.46M1272.6 1054.35v11.46M1321.85 1054.35v11.46M1371.1 1054.35v11.46M1420.36 1054.35v11.46M1469.61 1054.35v11.46M1518.86 1054.35v11.46M1568.12 1054.35v11.46M1617.37 1054.35v11.46M1666.62 1054.35v11.46M1715.88 1054.35v11.46M1765.13 1054.35v11.46M1814.38 1054.35v11.46M1863.63 1054.35v11.46M1912.89 1054.35v11.46M1962.14 1054.35v11.46M2011.39 1054.35v11.46M2060.65 1054.35v11.46M2109.9 1054.35v11.46M2159.15 1054.35v11.46M2208.41 1054.35v11.46M2257.66 1054.35v11.46M2306.91 1054.35v11.46M2356.16 1054.35v11.46M2405.42 1054.35v11.46M2454.67 1054.35v11.46M2503.92 1054.35v11.46M2553.18 1054.35v11.46M2602.43 1054.35v11.46M2651.68 1054.35v11.46M2700.94 1054.35v11.46M2750.19 1054.35v11.46M2799.44 1054.35v11.46M2848.69 1054.35v11.46M2897.95 1054.35v11.46M2947.2 1054.35v11.46M2996.45 1054.35v11.46M3045.71 1054.35v11.46M3094.96 1054.35v11.46M3144.21 1054.35v11.46M3193.47 1054.35v11.46" stroke="#333" stroke-width="4.3" fill="none"/>
<g font-size="37.33" fill="#4d4d4d" text-anchor="end">
<text transform="translate(414.4 180.14) scale(1 1.05)">Progenitors</text>
<text transform="translate(414.4 237.05) scale(1 1.05)">Plasma cells</text>
<text transform="translate(414.4 293.95) scale(1 1.05)">Physiology B cells</text>
<text transform="translate(414.4 350.86) scale(1 1.05)">pDCs</text>
<text transform="translate(414.4 407.77) scale(1 1.05)">NK cells</text>
<text transform="translate(414.4 464.67) scale(1 1.05)">Neutrophils</text>
<text transform="translate(414.4 521.58) scale(1 1.05)">Mono/Macro</text>
<text transform="translate(414.4 578.49) scale(1 1.05)">Mast cells</text>
<text transform="translate(414.4 635.4) scale(1 1.05)">Malignant cells</text>
<text transform="translate(414.4 692.3) scale(1 1.05)">Fibroblasts</text>
<text transform="translate(414.4 749.21) scale(1 1.05)">Erythrocytes</text>
<text transform="translate(414.4 806.12) scale(1 1.05)">Endothelial cells</text>
<text transform="translate(414.4 863.02) scale(1 1.05)">cDCs</text>
<text transform="translate(414.4 919.93) scale(1 1.05)">CD8<tspan dy="1.9">+</tspan><tspan dy="-1.9"> T cells</tspan></text>
<text transform="translate(414.4 976.84) scale(1 1.05)">CD4<tspan dy="1.9">+</tspan><tspan dy="-1.9"> T cells</tspan></text>
<text transform="translate(414.4 1033.74) scale(1 1.05)">B cells</text>
</g>
<g font-size="29.2" fill="#4d4d4d" text-anchor="end">
<text transform="translate(500.45 1088.9) rotate(-50) scale(1 1.05)">GSE140440</text>
<text transform="translate(549.7 1088.9) rotate(-50) scale(1 1.05)">GSE186960</text>
<text transform="translate(598.96 1088.9) rotate(-50) scale(1 1.05)">GSE138267</text>
<text transform="translate(648.21 1088.9) rotate(-50) scale(1 1.05)">GSE131984_Pac</text>
<text transform="translate(697.46 1088.9) rotate(-50) scale(1 1.05)">GSE163836</text>
<text transform="translate(746.72 1088.9) rotate(-50) scale(1 1.05)">GSE169246_PacBlood_post</text>
<text transform="translate(795.97 1088.9) rotate(-50) scale(1 1.05)">GSE169246_PacBlood_pre</text>
<text transform="translate(845.22 1088.9) rotate(-50) scale(1 1.05)">GSE169246_PacTissue_post</text>
<text transform="translate(894.47 1088.9) rotate(-50) scale(1 1.05)">GSE169246_PacTissue_pre</text>
<text transform="translate(943.73 1088.9) rotate(-50) scale(1 1.05)">GSE153697</text>
<text transform="translate(992.98 1088.9) rotate(-50) scale(1 1.05)">GSE169246_PacAteBlood_post</text>
<text transform="translate(1042.23 1088.9) rotate(-50) scale(1 1.05)">GSE169246_PacAteBlood_pre</text>
<text transform="translate(1091.49 1088.9) rotate(-50) scale(1 1.05)">GSE169246_PacAteTissue_post</text>
<text transform="translate(1140.74 1088.9) rotate(-50) scale(1 1.05)">GSE169246_PacAteTissue_pre</text>
<text transform="translate(1189.99 1088.9) rotate(-50) scale(1 1.05)">GSE197268_Axi–cel_post</text>
<text transform="translate(1239.25 1088.9) rotate(-50) scale(1 1.05)">GSE197268_Axi–cel_pre</text>
<text transform="translate(1288.5 1088.9) rotate(-50) scale(1 1.05)">GSE164551</text>
<text transform="translate(1337.75 1088.9) rotate(-50) scale(1 1.05)">PMID34715028_post</text>
<text transform="translate(1387 1088.9) rotate(-50) scale(1 1.05)">GSE212217_post</text>
<text transform="translate(1436.26 1088.9) rotate(-50) scale(1 1.05)">GSE212217_pre</text>
<text transform="translate(1485.51 1088.9) rotate(-50) scale(1 1.05)">GSE164237_post</text>
<text transform="translate(1534.76 1088.9) rotate(-50) scale(1 1.05)">GSE164237_pre</text>
<text transform="translate(1584.02 1088.9) rotate(-50) scale(1 1.05)">GSE150930</text>
<text transform="translate(1633.27 1088.9) rotate(-50) scale(1 1.05)">GSE207422_Sin_post</text>
<text transform="translate(1682.52 1088.9) rotate(-50) scale(1 1.05)">GSE197268_Tisa–cel_post</text>
<text transform="translate(1731.78 1088.9) rotate(-50) scale(1 1.05)">GSE197268_Tisa–cel_pre</text>
<text transform="translate(1781.03 1088.9) rotate(-50) scale(1 1.05)">GSE207422_Tor_post</text>
<text transform="translate(1830.28 1088.9) rotate(-50) scale(1 1.05)">GSE189460_pre</text>
<text transform="translate(1879.53 1088.9) rotate(-50) scale(1 1.05)">GSE161801_PI_post</text>
<text transform="translate(1928.79 1088.9) rotate(-50) scale(1 1.05)">GSE161801_PI_pre</text>
<text transform="translate(1978.04 1088.9) rotate(-50) scale(1 1.05)">GSE139386</text>
<text transform="translate(2027.29 1088.9) rotate(-50) scale(1 1.05)">GSE161195_post</text>
<text transform="translate(2076.55 1088.9) rotate(-50) scale(1 1.05)">GSE161195_pre</text>
<text transform="translate(2125.8 1088.9) rotate(-50) scale(1 1.05)">GSE158457</text>
<text transform="translate(2175.05 1088.9) rotate(-50) scale(1 1.05)">GSE168668</text>
<text transform="translate(2224.31 1088.9) rotate(-50) scale(1 1.05)">GSE149214</text>
<text transform="translate(2273.56 1088.9) rotate(-50) scale(1 1.05)">GSE162117_post</text>
<text transform="translate(2322.81 1088.9) rotate(-50) scale(1 1.05)">GSE162117_pre</text>
<text transform="translate(2372.06 1088.9) rotate(-50) scale(1 1.05)">GSE199333_post</text>
<text transform="translate(2421.32 1088.9) rotate(-50) scale(1 1.05)">GSE199333_pre</text>
<text transform="translate(2470.57 1088.9) rotate(-50) scale(1 1.05)">GSE111014_post</text>
<text transform="translate(2519.82 1088.9) rotate(-50) scale(1 1.05)">GSE111014_pre</text>
<text transform="translate(2569.08 1088.9) rotate(-50) scale(1 1.05)">GSE152469</text>
<text transform="translate(2618.33 1088.9) rotate(-50) scale(1 1.05)">GSE131984_JQ1</text>
<text transform="translate(2667.58 1088.9) rotate(-50) scale(1 1.05)">GSE131984_JQ1Pac</text>
<text transform="translate(2716.84 1088.9) rotate(-50) scale(1 1.05)">GSE131984_JQ1Pal</text>
<text transform="translate(2766.09 1088.9) rotate(-50) scale(1 1.05)">GSE104987</text>
<text transform="translate(2815.34 1088.9) rotate(-50) scale(1 1.05)">GSE131984_Pal</text>
<text transform="translate(2864.59 1088.9) rotate(-50) scale(1 1.05)">GSE108397</text>
<text transform="translate(2913.85 1088.9) rotate(-50) scale(1 1.05)">GSE161801_IMiD_post</text>
<text transform="translate(2963.1 1088.9) rotate(-50) scale(1 1.05)">GSE161801_IMiD_pre</text>
<text transform="translate(3012.35 1088.9) rotate(-50) scale(1 1.05)">GSE175716</text>
<text transform="translate(3061.61 1088.9) rotate(-50) scale(1 1.05)">GSE115251</text>
<text transform="translate(3110.86 1088.9) rotate(-50) scale(1 1.05)">GSE164897_Vem</text>
<text transform="translate(3160.11 1088.9) rotate(-50) scale(1 1.05)">GSE164897_VemCob</text>
<text transform="translate(3209.37 1088.9) rotate(-50) scale(1 1.05)">GSE164897_VemTra</text>
</g>
<path d="M434.9 1418.4H667M681 1418.4H1602.3M1627.5 1418.4H3045.7" stroke="#000" stroke-width="4.5" fill="none"/>
<g class="ser" font-size="54" fill="#000" text-anchor="middle">
<text class="ser" x="483.4" y="1481.9">Chemotherapy</text>
<text class="ser" x="1183" y="1481.9">Immunotherapy</text>
<text class="ser" x="2404.7" y="1481.9">Targeted therapy</text>
</g>
<g font-size="45.83" fill="#000"><text transform="translate(3291.7 491.2) scale(1 1.05)">Expression</text>
</g>
<rect x="3291.2" y="518.25" width="72.1" height="216.3" fill="#f2f2f2"/>
<circle cx="3327.25" cy="554.3" r="8.3" fill="#da988e" stroke="#000" stroke-opacity="0.5" stroke-width="2.7"/>
<circle cx="3318.95" cy="554.3" r="1.3" fill="#000" fill-opacity="0.4"/>
<g font-size="37.33" fill="#000"><text transform="translate(3386.5 568.3) scale(1 1.05)">Up</text>
</g>
<circle cx="3327.25" cy="626.4" r="8.3" fill="#6fb0d8" stroke="#000" stroke-opacity="0.5" stroke-width="2.7"/>
<circle cx="3318.95" cy="626.4" r="1.3" fill="#000" fill-opacity="0.4"/>
<g font-size="37.33" fill="#000"><text transform="translate(3386.5 640.4) scale(1 1.05)">Down</text>
</g>
<circle cx="3327.25" cy="698.5" r="8.3" fill="#f9f9f9" stroke="#000" stroke-opacity="0.5" stroke-width="2.7"/>
<circle cx="3318.95" cy="698.5" r="1.3" fill="#000" fill-opacity="0.4"/>
<g font-size="37.33" fill="#000"><text transform="translate(3386.5 712.5) scale(1 1.05)">None</text>
</g>
</svg>
</body></html>
